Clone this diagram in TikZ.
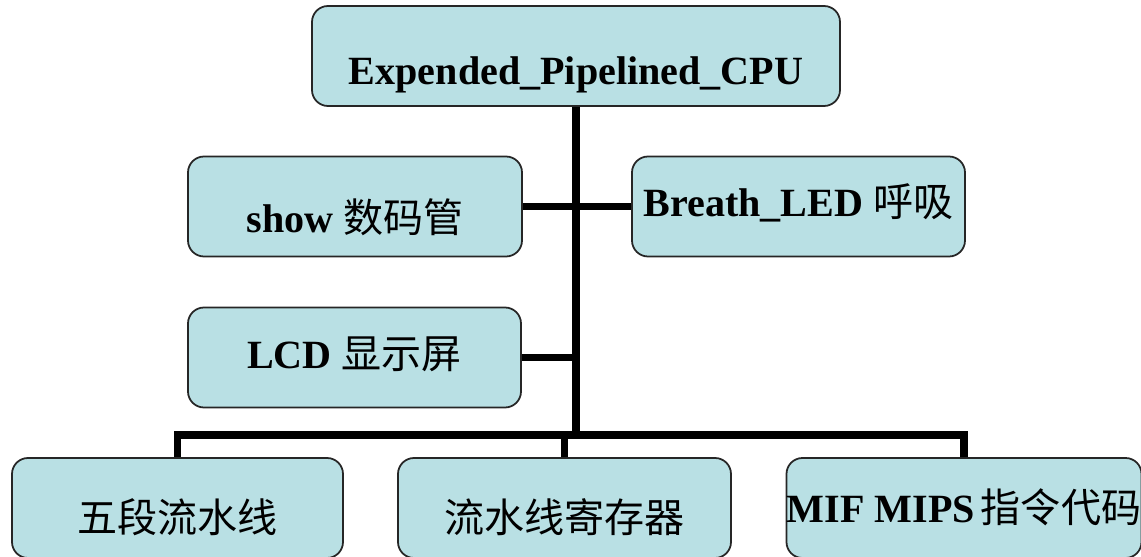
\documentclass[tikz,border=0pt]{standalone}
\usepackage{fontspec}
\setmainfont{Liberation Serif}
\newfontfamily\cjk{Noto Sans CJK SC}
\usepackage{tikz}
\definecolor{boxfill}{RGB}{185,224,228}
\newcommand{\zh}[1]{{\cjk\mdseries #1}}
\tikzset{
  modbox/.style = {draw=black!85, line width=1pt, fill=boxfill, rounded corners=0.32cm,
                   inner sep=0pt, minimum height=2cm,
                   font=\fontsize{22.8pt}{27pt}\selectfont\bfseries},
  link/.style   = {black, line width=4pt}
}

\begin{document}
\begin{tikzpicture}[scale=1.0]
  \useasboundingbox (0,0) rectangle (22.82,11.14);
  % top module
  \node[modbox,minimum width=10.56cm,text height=1.58cm,text depth=0.42cm] (cpu) at (11.52,10.02)
        {Expended\_Pipelined\_CPU};
  % side modules
  \node[modbox,minimum width=6.68cm,text height=1.52cm,text depth=0.48cm] (show) at (7.10,7.01)
        {show \zh{数码管}};
  \node[modbox,minimum width=6.66cm,text height=1.20cm,text depth=0.80cm] (breath) at (15.97,7.01)
        {Breath\_LED \zh{呼吸}};
  \node[modbox,minimum width=6.66cm,text height=1.22cm,text depth=0.78cm] (lcd) at (7.09,3.99)
        {LCD \zh{显示屏}};
  % bottom modules
  \node[modbox,minimum width=6.62cm,text height=1.50cm,text depth=0.50cm] (pipe5) at (3.55,0.98)
        {\zh{五段流水线}};
  \node[modbox,minimum width=6.66cm,text height=1.50cm,text depth=0.50cm] (preg) at (11.29,0.98)
        {\zh{流水线寄存器}};
  \node[modbox,minimum width=7.10cm,text height=1.30cm,text depth=0.70cm] (mif) at (19.28,0.98)
        {MIF MIPS\hspace{0.15em}\zh{指令代码}};
  \coordinate (hub) at (11.53,2.44);
  % connectors
  \draw[link] (cpu.south) -- (cpu.south |- hub);
  \draw[link] (show.east) -- (show.east -| hub);
  \draw[link] (breath.west) -- (breath.west -| hub);
  \draw[link] (lcd.east) -- (lcd.east -| hub);
  \draw[link] (pipe5.north) -- (pipe5.north |- hub) -- (mif.north |- hub) -- (mif.north);
  \draw[link] (preg.north) -- (preg.north |- hub);
\end{tikzpicture}
\end{document}
